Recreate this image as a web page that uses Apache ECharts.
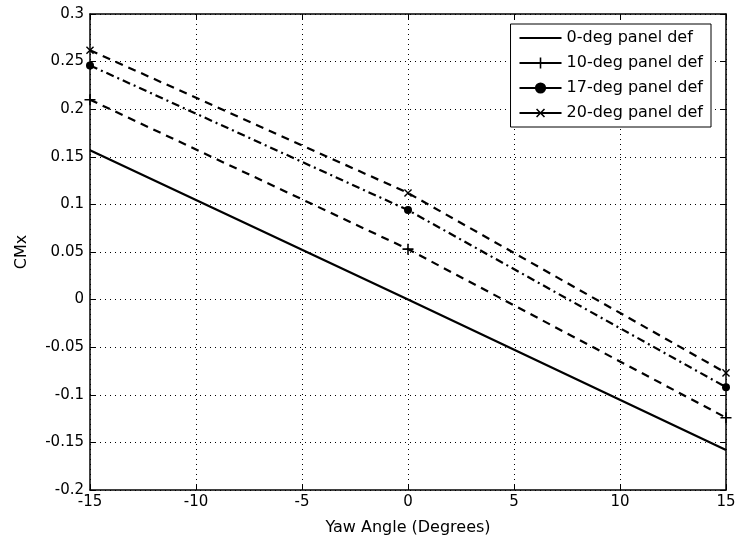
<!DOCTYPE html>
<html><head><meta charset="utf-8">
<script src="https://cdn.jsdelivr.net/npm/echarts@6/dist/echarts.min.js"></script>
<style>html,body{margin:0;padding:0;background:#fff}#c{width:739px;height:541px}</style>
</head><body><div id="c"></div>
<script>
const yawAngles = [-15, 0, 15];
const seriesNames = ['0-deg panel def', '10-deg panel def', '17-deg panel def', '20-deg panel def'];
const cmx0 = [0.157, 0.0, -0.158];
const cmx10 = [0.210, 0.053, -0.124];
const cmx17 = [0.246, 0.094, -0.092];
const cmx20 = [0.262, 0.112, -0.077];
const xTicks = [-15, -10, -5, 0, 5, 10, 15];
const yTicks = [-0.2, -0.15, -0.1, -0.05, 0, 0.05, 0.1, 0.15, 0.2, 0.25, 0.3];

const FONT = 'DejaVu Sans';
const plus = 'path://M-0.7,-5H0.7V-0.7H5V0.7H0.7V5H-0.7V0.7H-5V-0.7H-0.7Z';
const pts = a => yawAngles.map((x, i) => [x, a[i]]);
const fmtY = v => { const r = Math.round(v * 100) / 100; return String(r); };

function mk(name, data, type, symbol, size, rot) {
  return {
    name, type: 'line', data: pts(data),
    symbol: symbol, symbolSize: size, symbolRotate: rot || 0, showSymbol: symbol !== 'none',
    lineStyle: { color: '#000', width: 2.2, type: type },
    itemStyle: { color: '#000' },
    emphasis: { disabled: true }, animation: false, z: 5
  };
}
const axisCommon = {
  axisLine: { show: true, onZero: false, lineStyle: { color: '#000', width: 1.5 } },
  axisTick: { show: true, inside: true, length: 6, lineStyle: { color: '#000' } },
};
const chart = echarts.init(document.getElementById('c'));
chart.setOption({
  animation: false,
  grid: { left: 90, right: 13, top: 14, bottom: 51 },
  xAxis: [
    Object.assign({ type: 'value', min: -15, max: 15, interval: 5, position: 'bottom',
      name: 'Yaw Angle (Degrees)', nameLocation: 'middle', nameGap: 30,
      nameTextStyle: { fontFamily: FONT, fontSize: 16, color: '#000' },
      axisLabel: { fontFamily: FONT, fontSize: 15, color: '#000', margin: 5 },
      splitLine: { show: true, lineStyle: { color: '#000', type: [1, 4], width: 1 } } }, axisCommon),
    Object.assign({ type: 'value', min: -15, max: 15, interval: 5, position: 'top',
      axisLabel: { show: false }, splitLine: { show: false } }, axisCommon)
  ],
  yAxis: [
    Object.assign({ type: 'value', min: -0.2, max: 0.3, interval: 0.05, position: 'left',
      name: 'CMx', nameLocation: 'middle', nameGap: 60, nameRotate: 90,
      nameTextStyle: { fontFamily: FONT, fontSize: 16, color: '#000' },
      axisLabel: { fontFamily: FONT, fontSize: 15, color: '#000', margin: 6, formatter: fmtY },
      splitLine: { show: true, lineStyle: { color: '#000', type: [1, 4], width: 1 } } }, axisCommon),
    Object.assign({ type: 'value', min: -0.2, max: 0.3, interval: 0.05, position: 'right',
      axisLabel: { show: false }, splitLine: { show: false } }, axisCommon)
  ],
  legend: {
    orient: 'vertical', right: 28, top: 24,
    data: [
      { name: seriesNames[0], itemStyle: { opacity: 0 } },
      { name: seriesNames[1] },
      { name: seriesNames[2] },
      { name: seriesNames[3] }
    ],
    backgroundColor: '#fff', borderColor: '#000', borderWidth: 1,
    padding: [6, 8, 6, 8], itemGap: 9, itemWidth: 42, itemHeight: 14,
    textStyle: { fontFamily: FONT, fontSize: 16, color: '#000' },
    lineStyle: { type: 'solid', width: 2 },
    selectedMode: false
  },
  series: [
    mk(seriesNames[0], cmx0, 'solid', 'none', 0),
    mk(seriesNames[1], cmx10, [8, 6], plus, 11),
    mk(seriesNames[2], cmx17, [8, 4, 2, 4], 'circle', 8),
    mk(seriesNames[3], cmx20, [8, 6], plus, 10, 45)
  ]
});
</script></body></html>
